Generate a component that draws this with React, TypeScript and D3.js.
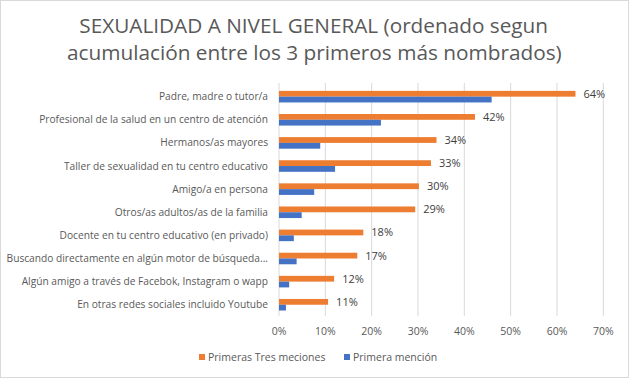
import React from "react";
import * as d3 from "d3";

const categories = [
  "Padre, madre o tutor/a",
  "Profesional de la salud en un centro de atención",
  "Hermanos/as mayores",
  "Taller de sexualidad en tu centro educativo",
  "Amigo/a en persona",
  "Otros/as adultos/as de la familia",
  "Docente en tu centro educativo (en privado)",
  "Buscando directamente en algún motor de búsqueda...",
  "Algún amigo a través de Facebok, Instagram o wapp",
  "En otras redes sociales incluido Youtube",
];
const primerasTres = [0.64, 0.423, 0.34, 0.328, 0.302, 0.294, 0.182, 0.169, 0.119, 0.106];
const primera = [0.459, 0.22, 0.089, 0.121, 0.076, 0.049, 0.032, 0.038, 0.022, 0.015];
const ticks = [0, 0.1, 0.2, 0.3, 0.4, 0.5, 0.6, 0.7];
const seriesNames = ["Primeras Tres meciones", "Primera mención"];
const titleLines = [
  "SEXUALIDAD A NIVEL GENERAL (ordenado segun",
  "acumulación entre los 3 primeros más nombrados)",
];
const colors = ["#ED7D31", "#4472C4"];

const W = 629, H = 378;
const FONT = "'Open Sans', sans-serif";

export default function App() {
  const x = d3.scaleLinear().domain([0, 0.7]).range([279, 603.3]);
  const y = d3.scaleBand<string>().domain(categories).range([85.1, 316.3]).paddingInner(0.5).paddingOuter(0.25);
  const sub = d3.scaleBand<number>().domain([0, 1]).range([0, y.bandwidth()]);
  const fmt = d3.format(".0%");
  const titleSpec = [
    { y: 33, x0: 79.3, x1: 548 },
    { y: 60, x0: 67, x1: 561.7 },
  ];
  return (
    <svg width={W} height={H} style={{ position: "absolute", left: 0, top: 0, background: "#fff" }} fontFamily={FONT}>
      <rect x={0.5} y={0.5} width={W - 1} height={H - 1} fill="#fff" stroke="#d9d9d9" />
      {titleLines.map((t, i) => (
        <text
          key={t}
          x={titleSpec[i].x0}
          y={titleSpec[i].y}
          fontSize={20}
          fill="#595959"
          textLength={titleSpec[i].x1 - titleSpec[i].x0}
          lengthAdjust="spacingAndGlyphs"
        >
          {t}
        </text>
      ))}
      {ticks.map((t) => (
        <g key={t}>
          <line x1={x(t)} x2={x(t)} y1={83} y2={316} stroke="#d9d9d9" strokeWidth={1} />
          <text x={x(t)} y={335} textAnchor="middle" fontSize={10.5} fill="#595959">
            {fmt(t)}
          </text>
        </g>
      ))}
      {categories.map((c, i) => {
        const y0 = y(c)!;
        return (
          <g key={c}>
            <text x={268} y={y0 + y.bandwidth() / 2 + 3.5} textAnchor="end" fontSize={10.2} fill="#595959">
              {c}
            </text>
            <rect x={x(0)} y={y0 + sub(0)!} width={x(primerasTres[i]) - x(0)} height={sub.bandwidth()} fill={colors[0]} />
            <rect x={x(0)} y={y0 + sub(1)!} width={x(primera[i]) - x(0)} height={sub.bandwidth()} fill={colors[1]} />
            <text x={x(primerasTres[i]) + 8} y={y0 + sub(0)! + sub.bandwidth() / 2 + 4} fontSize={11} fill="#404040">
              {fmt(primerasTres[i])}
            </text>
          </g>
        );
      })}
      {seriesNames.map((s, i) => {
        const lx = i === 0 ? 199 : 344;
        return (
          <g key={s}>
            <rect x={lx} y={354} width={6} height={6} fill={colors[i]} />
            <text x={lx + 9} y={361} fontSize={10.5} fill="#595959">
              {s}
            </text>
          </g>
        );
      })}
    </svg>
  );
}
